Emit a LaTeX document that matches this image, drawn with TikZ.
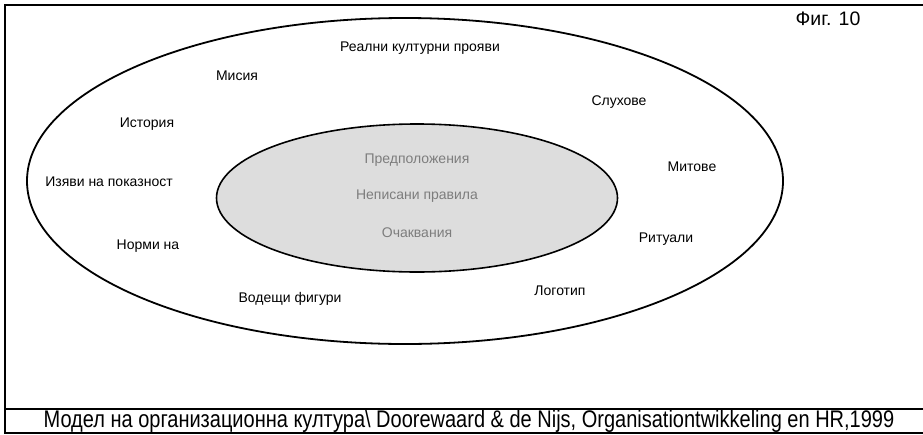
\documentclass[tikz,border=0pt]{standalone}
\usepackage{fontspec}
\setmainfont{Liberation Sans}
\usetikzlibrary{shapes.geometric}
\definecolor{innerfill}{RGB}{221,221,221}
\definecolor{innertext}{RGB}{125,125,125}
\tikzset{
  lbl/.style={font=\fontsize{14}{16}\selectfont, inner sep=0pt, anchor=center},
  inlbl/.style={lbl, text=innertext},
  ring/.style={ellipse, draw=black, line width=1.8pt, inner sep=0pt},
  frameline/.style={draw=black, line width=2pt}
}
\begin{document}
\begin{tikzpicture}[x=1pt,y=-1pt]
\useasboundingbox (0,0) rectangle (923,434);
% frame
\coordinate (tr) at (923,5);
\coordinate (tl) at (5,5);
\coordinate (bl) at (5,433);
\coordinate (br) at (923,433);
\coordinate (sl) at (5,409);
\coordinate (sr) at (923,409);
\draw[frameline] (tr) -- (tl) -- (bl) -- (br);
\draw[frameline] (sl) -- (sr);
% ellipses
\node[ring, minimum width=756pt, minimum height=326pt] (outer) at (405,181) {};
\node[ring, fill=innerfill, line width=1.6pt, minimum width=401pt, minimum height=148pt] (inner) at (417,198) {};
% labels
\node[font=\fontsize{19.5}{22}\selectfont, inner sep=0pt] (fig) at (828,19) {Фиг. 10};
\node[lbl] (real) at (420,48) {Реални културни прояви};
\node[lbl] (misiya) at (237,76) {Мисия};
\node[lbl] (ist) at (147,124) {История};
\node[lbl] (izyavi) at (109,182) {Изяви на показност};
\node[lbl] (norm) at (148,246) {Норми на};
\node[lbl] (vod) at (290,299) {Водещи фигури};
\node[lbl] (sluh) at (619,102) {Слухове};
\node[lbl] (mit) at (692,167) {Митове};
\node[lbl] (rit) at (666,239) {Ритуали};
\node[lbl] (logo) at (560,291) {Логотип};
\node[inlbl] (pred) at (417,160) {Предположения};
\node[inlbl] (nepis) at (417,196) {Неписани правила};
\node[inlbl] (ochak) at (417,233) {Очаквания};
% caption
\node[inner sep=0pt, yscale=1.2, font=\fontsize{20}{22}\selectfont] (cap) at (469,421) {Модел на организационна култура\textbackslash{} Doorewaard \& de Nijs, Organisationtwikkeling en HR,1999};
\end{tikzpicture}
\end{document}
